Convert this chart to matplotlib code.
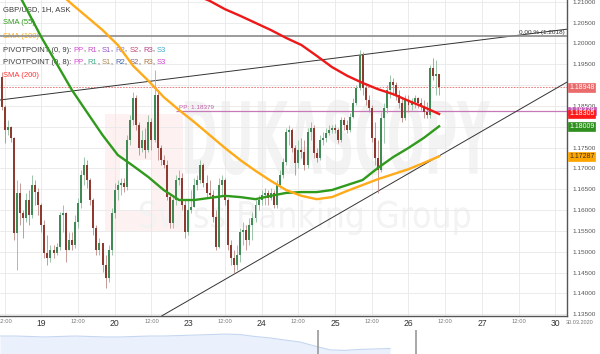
import matplotlib
matplotlib.use("Agg")
import matplotlib.pyplot as plt
import numpy as np
from matplotlib.textpath import TextPath
from matplotlib.patches import PathPatch, Rectangle
from matplotlib.font_manager import FontProperties
from matplotlib.transforms import Affine2D, blended_transform_factory

plt.rcParams['font.family'] = ['Liberation Sans', 'DejaVu Sans']

# GBP/USD 1H candles, x = hour index (0 = 19.03 00:00, weekend skipped)
start_idx = -13
first_open = 1.1919
close = [1.1847, 1.1792, 1.1799, 1.1773, 1.1545, 1.1641, 1.1593, 1.1581, 1.1624, 1.1588, 1.1660, 1.1643,
         1.1612, 1.1564, 1.1497, 1.1485, 1.1504, 1.1497, 1.1511, 1.1588, 1.1593, 1.1504, 1.1528, 1.1516,
         1.1571, 1.1617, 1.1684, 1.1708, 1.1672, 1.1624, 1.1557, 1.1504, 1.1521, 1.1468, 1.1437, 1.1504,
         1.1593, 1.1648, 1.1660, 1.1665, 1.1655, 1.1768, 1.1816, 1.1869, 1.1804, 1.1749, 1.1768, 1.1744,
         1.1811, 1.1768, 1.1876, 1.1749, 1.1720, 1.1708, 1.1631, 1.1569, 1.1624, 1.1672, 1.1677, 1.1612,
         1.1547, 1.1600, 1.1607, 1.1660, 1.1672, 1.1708, 1.1665, 1.1641, 1.1636, 1.1583, 1.1511, 1.1660,
         1.1672, 1.1624, 1.1516, 1.1485, 1.1468, 1.1492, 1.1547, 1.1552, 1.1528, 1.1564, 1.1581, 1.1612,
         1.1624, 1.1636, 1.1641, 1.1629, 1.1641, 1.1612, 1.1660, 1.1684, 1.1715, 1.1787, 1.1792, 1.1749,
         1.1713, 1.1744, 1.1739, 1.1708, 1.1787, 1.1797, 1.1737, 1.1725, 1.1768, 1.1773, 1.1785, 1.1792,
         1.1797, 1.1792, 1.1768, 1.1816, 1.1804, 1.1792, 1.1823, 1.1857, 1.1893, 1.1972, 1.1893, 1.1864,
         1.1845, 1.1773, 1.1725, 1.1696, 1.1821, 1.1845, 1.1888, 1.1907, 1.1900, 1.1876, 1.1857, 1.1821,
         1.1864, 1.1852, 1.1859, 1.1869, 1.1857, 1.1850, 1.1835, 1.1828, 1.1941, 1.1922, 1.1926, 1.18948]
high = [1.1931, 1.1852, 1.1816, 1.1802, 1.1775, 1.1672, 1.1665, 1.1600, 1.1641, 1.1648, 1.1684, 1.1672,
        1.1653, 1.1617, 1.1576, 1.1540, 1.1516, 1.1516, 1.1521, 1.1595, 1.1612, 1.1595, 1.1547, 1.1547,
        1.1588, 1.1629, 1.1696, 1.1727, 1.1720, 1.1677, 1.1629, 1.1564, 1.1533, 1.1521, 1.1492, 1.1516,
        1.1605, 1.1665, 1.1672, 1.1677, 1.1677, 1.1780, 1.1828, 1.1883, 1.1876, 1.1811, 1.1792, 1.1797,
        1.1828, 1.1821, 1.1936, 1.1888, 1.1756, 1.1732, 1.1720, 1.1636, 1.1636, 1.1684, 1.1696, 1.1689,
        1.1624, 1.1624, 1.1648, 1.1677, 1.1684, 1.1720, 1.1713, 1.1684, 1.1672, 1.1648, 1.1600, 1.1677,
        1.1684, 1.1677, 1.1629, 1.1528, 1.1504, 1.1516, 1.1557, 1.1571, 1.1564, 1.1581, 1.1595, 1.1624,
        1.1636, 1.1648, 1.1653, 1.1648, 1.1653, 1.1648, 1.1672, 1.1696, 1.1725, 1.1797, 1.1804, 1.1797,
        1.1756, 1.1768, 1.1773, 1.1768, 1.1797, 1.1811, 1.1804, 1.1749, 1.1780, 1.1787, 1.1797, 1.1804,
        1.1804, 1.1806, 1.1797, 1.1823, 1.1823, 1.1816, 1.1833, 1.1869, 1.1900, 1.1984, 1.1979, 1.1900,
        1.1876, 1.1852, 1.1811, 1.1768, 1.1835, 1.1857, 1.1900, 1.1924, 1.1917, 1.1907, 1.1888, 1.1869,
        1.1876, 1.1876, 1.1869, 1.1876, 1.1871, 1.1869, 1.1864, 1.1859, 1.1948, 1.1965, 1.1960, 1.1926]
low = [1.1840, 1.1761, 1.1780, 1.1763, 1.1528, 1.1456, 1.1564, 1.1533, 1.1571, 1.1564, 1.1581, 1.1612,
       1.1588, 1.1547, 1.1485, 1.1468, 1.1475, 1.1485, 1.1492, 1.1504, 1.1547, 1.1475, 1.1504, 1.1504,
       1.1509, 1.1557, 1.1605, 1.1660, 1.1653, 1.1612, 1.1540, 1.1492, 1.1492, 1.1451, 1.1413, 1.1427,
       1.1492, 1.1581, 1.1624, 1.1636, 1.1643, 1.1648, 1.1756, 1.1804, 1.1792, 1.1732, 1.1739, 1.1725,
       1.1739, 1.1744, 1.1763, 1.1720, 1.1708, 1.1701, 1.1624, 1.1557, 1.1557, 1.1612, 1.1660, 1.1600,
       1.1533, 1.1540, 1.1593, 1.1607, 1.1648, 1.1665, 1.1655, 1.1631, 1.1629, 1.1571, 1.1504, 1.1509,
       1.1636, 1.1612, 1.1504, 1.1468, 1.1449, 1.1456, 1.1475, 1.1516, 1.1504, 1.1516, 1.1528, 1.1571,
       1.1600, 1.1612, 1.1612, 1.1612, 1.1624, 1.1605, 1.1605, 1.1653, 1.1677, 1.1708, 1.1756, 1.1739,
       1.1684, 1.1701, 1.1725, 1.1696, 1.1701, 1.1768, 1.1725, 1.1715, 1.1720, 1.1756, 1.1763, 1.1780,
       1.1785, 1.1785, 1.1761, 1.1763, 1.1792, 1.1785, 1.1787, 1.1821, 1.1852, 1.1888, 1.1876, 1.1852,
       1.1835, 1.1763, 1.1708, 1.1641, 1.1691, 1.1761, 1.1833, 1.1869, 1.1876, 1.1864, 1.1845, 1.1811,
       1.1816, 1.1835, 1.1840, 1.1845, 1.1845, 1.1840, 1.1821, 1.1821, 1.1821, 1.1912, 1.1876, 1.1876]

# moving averages (read at every 5th hour)
sma55_x = [-9, -6, 0, 10, 16, 20, 25, 30, 35, 40, 45, 50, 55, 60, 65, 70, 75, 80, 85, 90, 95, 100, 105, 110, 115, 120, 125, 130]
sma55 = [1.2140, 1.2099, 1.2015, 1.1888, 1.1823, 1.1780, 1.1732, 1.1706, 1.1679, 1.1648, 1.1624, 1.1624, 1.1629, 1.1634,
         1.1631, 1.1626, 1.1634, 1.1641, 1.1643, 1.1643, 1.1648, 1.1660, 1.1672, 1.1701, 1.1727, 1.1749, 1.1773, 1.18009]
sma100_x = [7, 10, 15, 20, 25, 30, 35, 40, 45, 50, 55, 60, 65, 70, 75, 80, 85, 90, 95, 100, 105, 110, 115, 120, 125, 130]
sma100 = [1.2114, 1.2094, 1.2063, 1.2032, 1.1996, 1.1946, 1.1910, 1.1871, 1.1840, 1.1811, 1.1780, 1.1749, 1.1720,
          1.1694, 1.1670, 1.1648, 1.1634, 1.1626, 1.1631, 1.1646, 1.1660, 1.1674, 1.1686, 1.1698, 1.1713, 1.17287]
sma200_x = [52, 55, 60, 65, 70, 75, 80, 85, 90, 95, 100, 105, 110, 115, 120, 125, 130]
sma200 = [1.2111, 1.2102, 1.2082, 1.2066, 1.2049, 1.2032, 1.2013, 1.1996, 1.1970, 1.1943, 1.1922, 1.1905,
          1.1890, 1.1878, 1.1862, 1.1847, 1.18305]

# drawn objects
fib_level = 1.2018
last_price = 1.18948
pp_level = 1.18379
pp_start = 44
upper_x = [-13.5, 171.8]
upper_y = [1.1864, 1.2034]
lower_x = [39.4, 171.8]
lower_y = [1.1346, 1.1907]

day_labels = ['19', '20', '23', '24', '25', '26', '27', '30']

nav_vals = [0.75, 0.75, 0.73, 0.71, 0.73, 0.75, 0.73, 0.71, 0.71, 0.73, 0.75, 0.75, 0.77, 0.79,
            0.81, 0.83, 0.81, 0.73, 0.67, 0.58, 0.50, 0.33, 0.17, 0.15, 0.19, 0.21, 0.23]

close = np.array(close)
high = np.array(high)
low = np.array(low)
idx = np.arange(start_idx, start_idx + len(close))
opens = np.r_[first_open, close[:-1]]
high = np.maximum(high, np.maximum(opens, close))
low = np.minimum(low, np.minimum(opens, close))
up = close >= opens

fig = plt.figure(figsize=(6, 3.54), dpi=100)
ax = fig.add_axes([0, 1 - 316 / 354, 567 / 600, 316 / 354])
ax.set_xlim(-13.5, 171.8)
ax.set_ylim(1.13456, 1.2104)

for s in ['top', 'left']:
    ax.spines[s].set_visible(False)
for s in ['right', 'bottom']:
    ax.spines[s].set_color('#555555')
    ax.spines[s].set_linewidth(1)

ax.grid(color='#e8e8e8', lw=0.6)
ax.set_axisbelow(True)

ticks = np.arange(-12, 169, 12)
ax.set_xticks(ticks)
ax.set_xticklabels([day_labels[t // 24] if t % 24 == 0 else '12:00' for t in ticks])
for lbl in ax.get_xticklabels():
    if lbl.get_text() == '12:00':
        lbl.set_fontsize(4.2)
        lbl.set_color('#777777')
    else:
        lbl.set_fontsize(6.2)
        lbl.set_color('#333333')
ax.tick_params(axis='x', length=0, pad=2.5)

# price tags sit on top of these two levels, so their labels are hidden
ax.yaxis.tick_right()
yt = np.arange(1.135, 1.2101, 0.005)
ax.set_yticks(yt)
ax.set_yticklabels(['' if abs(v - 1.19) < 1e-6 or abs(v - 1.18) < 1e-6 else '%.5f' % v for v in yt])
ax.tick_params(axis='y', length=0, pad=4, labelsize=4.6, labelcolor='#555555')

# watermark
ax.add_patch(Rectangle((0.185, 0.27), 0.138, 0.37, transform=ax.transAxes, fc='#fdf1f1', ec='none', zorder=0.3))
ax.add_patch(Rectangle((0.212, 0.335), 0.056, 0.16, transform=ax.transAxes, fc='white', ec='none', zorder=0.31))


def stretched_text(s, box, weight):
    tp = TextPath((0, 0), s, size=1, prop=FontProperties(family='DejaVu Sans', weight=weight))
    bb = tp.get_extents()
    x0, x1, y0, y1 = box
    tr = Affine2D().translate(-bb.x0, -bb.y0).scale((x1 - x0) / bb.width, (y1 - y0) / bb.height).translate(x0, y0)
    ax.add_patch(PathPatch(tp, transform=tr + ax.transAxes, fc='#f3f3f3', ec='none', zorder=0.35))


stretched_text('DUKASCOPY', (0.326, 0.864, 0.446, 0.684), 'bold')
stretched_text('Swiss Banking Group', (0.247, 0.829, 0.256, 0.367), 'normal')

# lines
ax.axhline(fib_level, color='#8a8a8a', lw=1.2, zorder=4.8)
ax.axhline(last_price, color='#e86a6a', lw=0.6, ls=(0, (2, 1.5)), zorder=2)
ax.hlines(pp_level, pp_start, 171.8, color='#c878b8', lw=0.9, zorder=2)
ax.plot(upper_x, upper_y, color='#333333', lw=0.7, zorder=2.5)
ax.plot(lower_x, lower_y, color='#333333', lw=0.7, zorder=2.5)

# candles
ax.vlines(idx, low, high, colors=np.where(up, '#8dbb9a', '#bb8a86'), lw=0.6, zorder=2.8)
ax.bar(idx, close - opens, bottom=opens, width=0.65, color=np.where(up, '#3f8a55', '#8e3a31'), lw=0, zorder=3)

ax.plot(sma55_x, sma55, color='#2f9a1c', lw=1.7, zorder=5)
ax.plot(sma100_x, sma100, color='#ffaa18', lw=1.7, zorder=5)
ax.plot(sma200_x, sma200, color='#ee1818', lw=1.7, zorder=5)

ax.text(171, fib_level + 0.0002, '0.00 % (1.2018)', ha='right', va='bottom', fontsize=4.6, color='#333333')
ax.text(pp_start + 1, pp_level + 0.0002, 'PP: 1.18379', ha='left', va='bottom', fontsize=4.6, color='#c060a8')

# price tags on the right axis
trans = blended_transform_factory(ax.transAxes, ax.transData)
tags = [(last_price, '#ea6b6b', 'white'), (pp_level, '#c45ab3', 'white'),
        (sma200[-1], '#ff1a1a', 'white'), (sma55[-1], '#2f8f1f', 'white'), (sma100[-1], '#ffa500', '#333333')]
for v, fc, tc in tags:
    ax.text(1.004, v, '%.5f' % v, transform=trans, ha='left', va='center', fontsize=5, color=tc,
            bbox=dict(boxstyle='square,pad=0.12', fc=fc, ec=fc, lw=0.5), zorder=6)

# legend rows
dark = '#3a3a3a'
rows = [
    [('GBP/USD, 1H, ASK', dark)],
    [('SMA (55)', '#2f9a1c')],
    [('SMA (100)', '#ffaa18')],
    [('PIVOTPOINT (0, 9): ', dark), ('PP', '#d84ad8'), (', ', dark), ('R1', '#c650c6'), (', ', dark),
     ('S1', '#9650c8'), (', ', dark), ('R2', '#8878ee'), (', ', dark), ('S2', '#cc4477'), (', ', dark),
     ('R3', '#b84488'), (', ', dark), ('S3', '#44aacc')],
    [('PIVOTPOINT (0, 8): ', dark), ('PP', '#d84ad8'), (', ', dark), ('R1', '#44aa88'), (', ', dark),
     ('S1', '#a88855'), (', ', dark), ('R2', '#4466aa'), (', ', dark), ('S2', '#806080'), (', ', dark),
     ('R3', '#aa7744'), (', ', dark), ('S3', '#cc44cc')],
    [('SMA (200)', '#ff3333')],
]
row_y = [10, 23, 36.5, 50, 63, 75.5]
for pieces, yy in zip(rows, row_y):
    t = ax.text(3 / 567, 1 - yy / 316, pieces[0][0], transform=ax.transAxes, va='center', ha='left',
                fontsize=5.5, color=pieces[0][1], zorder=4.5)
    for s, c in pieces[1:]:
        t = ax.annotate(s, xy=(1, 0), xycoords=t, va='bottom', ha='left', fontsize=5.5, color=c, zorder=4.5)

fig.text(580 / 600, 1 - 322 / 354, '30.03.2020', fontsize=4, color='#777777', ha='center', va='center')

# navigator strip
nav = fig.add_axes([0, 0, 1, 24 / 354])
nav.set_xlim(0, 40)
nav.set_ylim(0, 1)
nx = np.arange(len(nav_vals))
nav.fill_between(nx, 0, nav_vals, color='#eaf1fc', lw=0)
nav.plot(nx, nav_vals, color='#c5d6f0', lw=0.8)
nav.axvline(21.2, color='#9a9a9a', lw=1.2)
nav.axvline(27.7, color='#9a9a9a', lw=1.2)
nav.axis('off')

fig.savefig('out.png', dpi=100)
